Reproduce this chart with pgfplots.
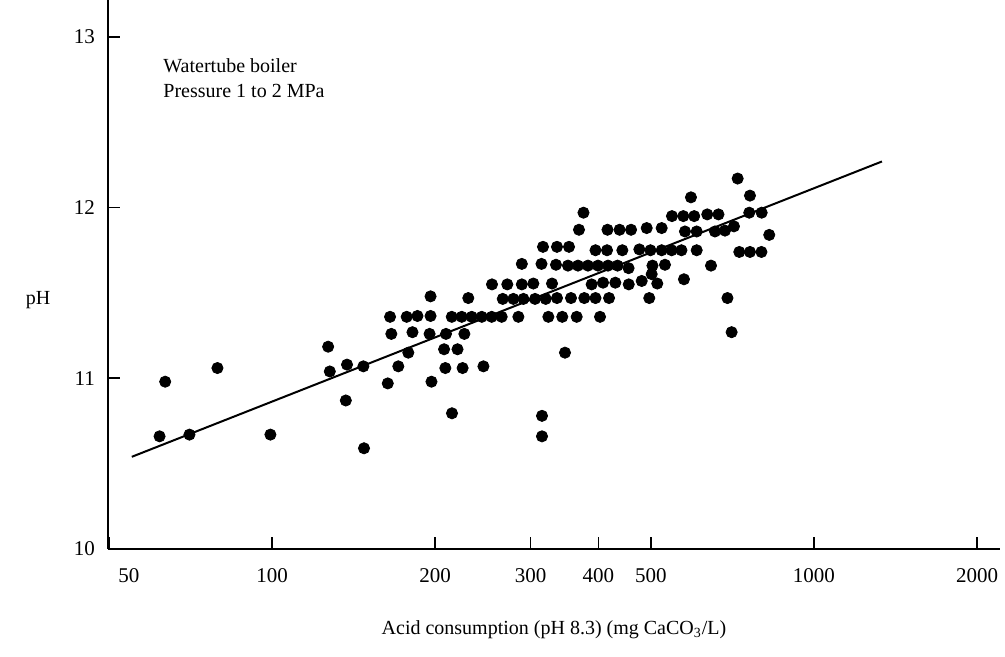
\documentclass[border=0pt]{standalone}
\usepackage{pgfplots}
\pgfplotsset{compat=1.18}
\usepackage{fontspec}
\setmainfont{Liberation Serif}
\begin{document}
\fontsize{10pt}{12pt}\selectfont
\begin{tikzpicture}
\begin{axis}[
  scale only axis,
  width=446pt, height=274.5pt,
  xmode=log, log basis x=10,
  xmin=49.8, xmax=2205, ymin=10, ymax=13.216,
  axis x line=bottom, axis y line=left,
  axis line style={-, line width=1pt},
  xtick={50,100,200,300,400,500,1000,2000},
  xticklabels={\hspace*{20pt}50,100,200,300,400,500,1000,2000},
  ytick={10,11,12,13},
  yticklabels={10,11,12,13},
  minor xtick={}, minor ytick={},
  tick align=inside, major tick length=6pt,
  tick style={line width=0.8pt, black},
  xticklabel style={yshift=-6pt, font=\fontsize{10.5pt}{12pt}\selectfont},
  yticklabel style={xshift=-3pt, font=\fontsize{10.5pt}{12pt}\selectfont},
  /pgf/number format/assume math mode=true,
  xlabel={Acid consumption (pH 8.3) (mg CaCO\textsubscript{3}/L)},
  xlabel style={at={(axis description cs:0.5,0)}, anchor=center, yshift=-40.5pt},
  ylabel={pH},
  ylabel style={at={(axis description cs:0,0.4536)}, rotate=-90, anchor=center, xshift=-35pt},
  clip=false,
]
\addplot[only marks, mark=*, mark size=2.8pt, black] coordinates {
(62.0,10.66) (63.5,10.98) (70.4,10.67) (79.3,11.06) (99.3,10.67)
(126.9,11.185) (127.8,11.04) (137.5,11.08) (136.8,10.87) (147.4,11.07) (147.8,10.59)
(163.5,10.97) (166.0,11.26) (165.1,11.36) (171.0,11.07) (178.4,11.15) (177.2,11.36)
(181.6,11.27) (185.5,11.365) (196.1,11.48) (196.1,11.365) (195.3,11.26) (196.9,10.98)
(207.7,11.17) (208.8,11.06) (209.4,11.26) (214.6,11.36) (214.8,10.795) (219.9,11.17)
(223.9,11.36) (224.7,11.06) (226.4,11.26) (230.2,11.47) (233.6,11.36) (243.8,11.36)
(245.5,11.07) (254.3,11.36) (254.6,11.55) (265.3,11.36) (266.5,11.465) (271.7,11.55)
(278.8,11.465) (284.8,11.36) (289.0,11.55) (289.0,11.67) (291.0,11.465) (303.5,11.555)
(305.7,11.465) (314.2,11.67) (316.2,11.77) (314.9,10.78) (314.9,10.66) (319.9,11.465)
(323.5,11.36) (328.6,11.555) (334.2,11.665) (335.6,11.77) (335.6,11.47) (343.2,11.36)
(347.2,11.15) (351.6,11.66) (353.2,11.77) (356.2,11.47) (364.9,11.36) (366.9,11.66)
(368.5,11.87) (375.6,11.97) (376.9,11.47) (382.8,11.66) (388.9,11.55) (395.3,11.75)
(395.3,11.47) (399.5,11.66) (402.9,11.36) (408.1,11.56) (415.9,11.87) (415.1,11.75)
(416.9,11.66) (418.7,11.47) (430.0,11.56) (434.1,11.66) (437.8,11.87) (443.0,11.75)
(454.9,11.645) (455.2,11.55) (459.7,11.87) (476.2,11.755) (481.0,11.57) (491.3,11.88)
(496.7,11.47) (499.2,11.75) (501.8,11.61) (503.5,11.66) (513.9,11.555) (523.6,11.88)
(523.6,11.75) (531.0,11.665) (546.3,11.75) (547.0,11.95) (569.5,11.75) (574.0,11.95)
(575.6,11.58) (578.1,11.86) (593.0,12.06) (601.2,11.95) (607.6,11.86) (607.6,11.75)
(635.5,11.96) (645.7,11.66) (656.7,11.86) (666.5,11.96) (685.2,11.865) (692.5,11.47)
(704.9,11.27) (711.9,11.89) (723.2,12.17) (728.2,11.74) (759.7,11.97) (762.0,12.07)
(762.0,11.74) (800.8,11.97) (800.0,11.74) (827.0,11.84)
};
\addplot[black, line width=1pt] coordinates {(55.1,10.54) (1335,12.27)};
\node[anchor=north west, align=left, inner sep=0pt, font=\fontsize{10pt}{12.5pt}\selectfont]
  at (rel axis cs:0.0617,0.894) {Watertube boiler\\Pressure 1 to 2 MPa};
\end{axis}
\pgfresetboundingbox
\path[use as bounding box] ([shift={(-54pt,-54pt)}]current axis.south west) rectangle ([shift={(448.5pt,274.5pt)}]current axis.south west);
\end{tikzpicture}
\end{document}
